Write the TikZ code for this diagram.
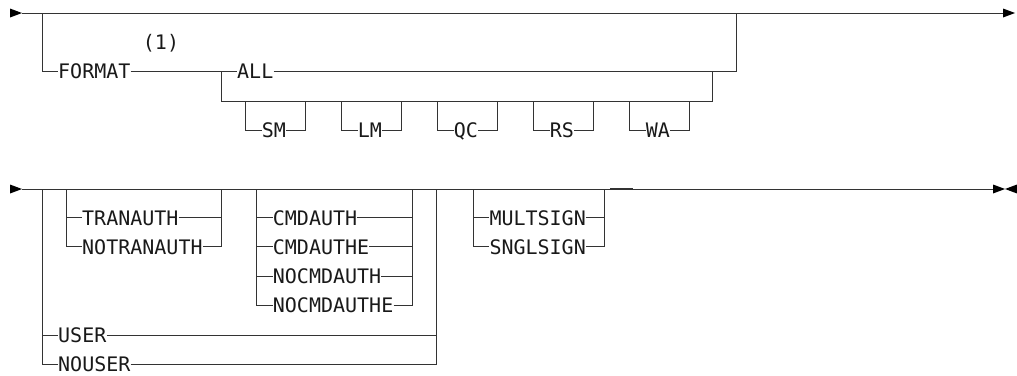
\documentclass[tikz,border=0pt]{standalone}
\usepackage{fontspec}
\newfontfamily\diagfont{DejaVu Sans Mono}
\begin{document}
\begin{tikzpicture}[x=1pt,y=-1pt,
  ln/.style={draw=black!80,line width=1pt},
  kw/.style={font=\diagfont\fontsize{20}{24}\selectfont,inner sep=0pt,
    text height=14.6pt,text depth=0pt,anchor=west,text=black!90},
  tipfill/.style={fill=black,draw=none}]
\useasboundingbox (0,0) rectangle (1017,375);

% ---------- first line ----------
\coordinate (s1) at (22,13);
\coordinate (e1) at (1003,13);
\fill[tipfill] (10,8.5) -- (s1) -- (10,17.5) -- cycle;
\draw[ln] (s1) -- (e1);
\fill[tipfill] (1003,8.5) -- (1015,13) -- (1003,17.5) -- cycle;

\node[kw] (format) at (58,71) {FORMAT};
\node[font=\diagfont\fontsize{20}{24}\selectfont,inner sep=0pt,anchor=base,text=black!90] (note) at (161,49.3) {(1)};
\node[kw] (all) at (237,71) {ALL};
\coordinate (f1) at (42,13);
\draw[ln] (f1) |- (format.west);
\draw[ln] (format.east) -- (all.west);
\coordinate (allend) at (736,13);
\draw[ln] (all.east) -| (allend);
\coordinate (forkL) at (221,71);
\coordinate (forkR) at (712,71);
\draw[ln] (forkL) -- (221,101) -- (712,101) -- (forkR);

\foreach \t/\n [count=\i from 0] in {SM/sm,LM/lm,QC/qc,RS/rs,WA/wa}{
  \pgfmathsetmacro\L{245.7+96*\i}
  \pgfmathsetmacro\R{\L+60}
  \node[kw] (\n) at (\L+16,130) {\t};
  \draw[ln] (\L,101) |- (\n.west);
  \draw[ln] (\n.east) -| (\R,101);
}

% ---------- second line ----------
\coordinate (s2) at (22,189);
\coordinate (e2) at (993,189);
\fill[tipfill] (10,184.5) -- (s2) -- (10,193.5) -- cycle;
\draw[ln] (s2) -- (e2);
\fill[tipfill] (993,184.5) -- (1005,189) -- (993,193.5) -- cycle;
\fill[tipfill] (1017,184.5) -- (1005,189) -- (1017,193.5) -- cycle;
\draw[black!80,line width=1.2pt] (610,188.5) -- (633,188.5);

% outer USER / NOUSER
\coordinate (o1) at (42,189);
\coordinate (o2) at (436.7,189);
\node[kw] (user) at (58,335.5) {USER};
\node[kw] (nouser) at (58,364.5) {NOUSER};
\draw[ln] (o1) |- (nouser.west);
\draw[ln] (o1) |- (user.west);
\draw[ln] (user.east) -| (o2);
\draw[ln] (nouser.east) -| (o2);

% TRANAUTH group
\coordinate (t1) at (66,189);
\coordinate (t2) at (221,189);
\node[kw] (tran) at (82,217.7) {TRANAUTH};
\node[kw] (notran) at (82,246.7) {NOTRANAUTH};
\draw[ln] (t1) |- (notran.west);
\draw[ln] (t1) |- (tran.west);
\draw[ln] (tran.east) -| (t2);
\draw[ln] (notran.east) -| (t2);

% CMDAUTH group
\coordinate (c1) at (256.7,189);
\coordinate (c2) at (412.3,189);
\node[kw] (cmd) at (272.7,217.7) {CMDAUTH};
\node[kw] (cmde) at (272.7,246.7) {CMDAUTHE};
\node[kw] (nocmd) at (272.7,276) {NOCMDAUTH};
\node[kw] (nocmde) at (272.7,305.5) {NOCMDAUTHE};
\foreach \n in {cmd,cmde,nocmd,nocmde}{
  \draw[ln] (c1) |- (\n.west);
  \draw[ln] (\n.east) -| (c2);
}

% SIGN group
\coordinate (g1) at (473.3,189);
\coordinate (g2) at (604.3,189);
\node[kw] (mult) at (489.3,217.7) {MULTSIGN};
\node[kw] (sngl) at (489.3,246.7) {SNGLSIGN};
\foreach \n in {mult,sngl}{
  \draw[ln] (g1) |- (\n.west);
  \draw[ln] (\n.east) -| (g2);
}
\end{tikzpicture}
\end{document}
